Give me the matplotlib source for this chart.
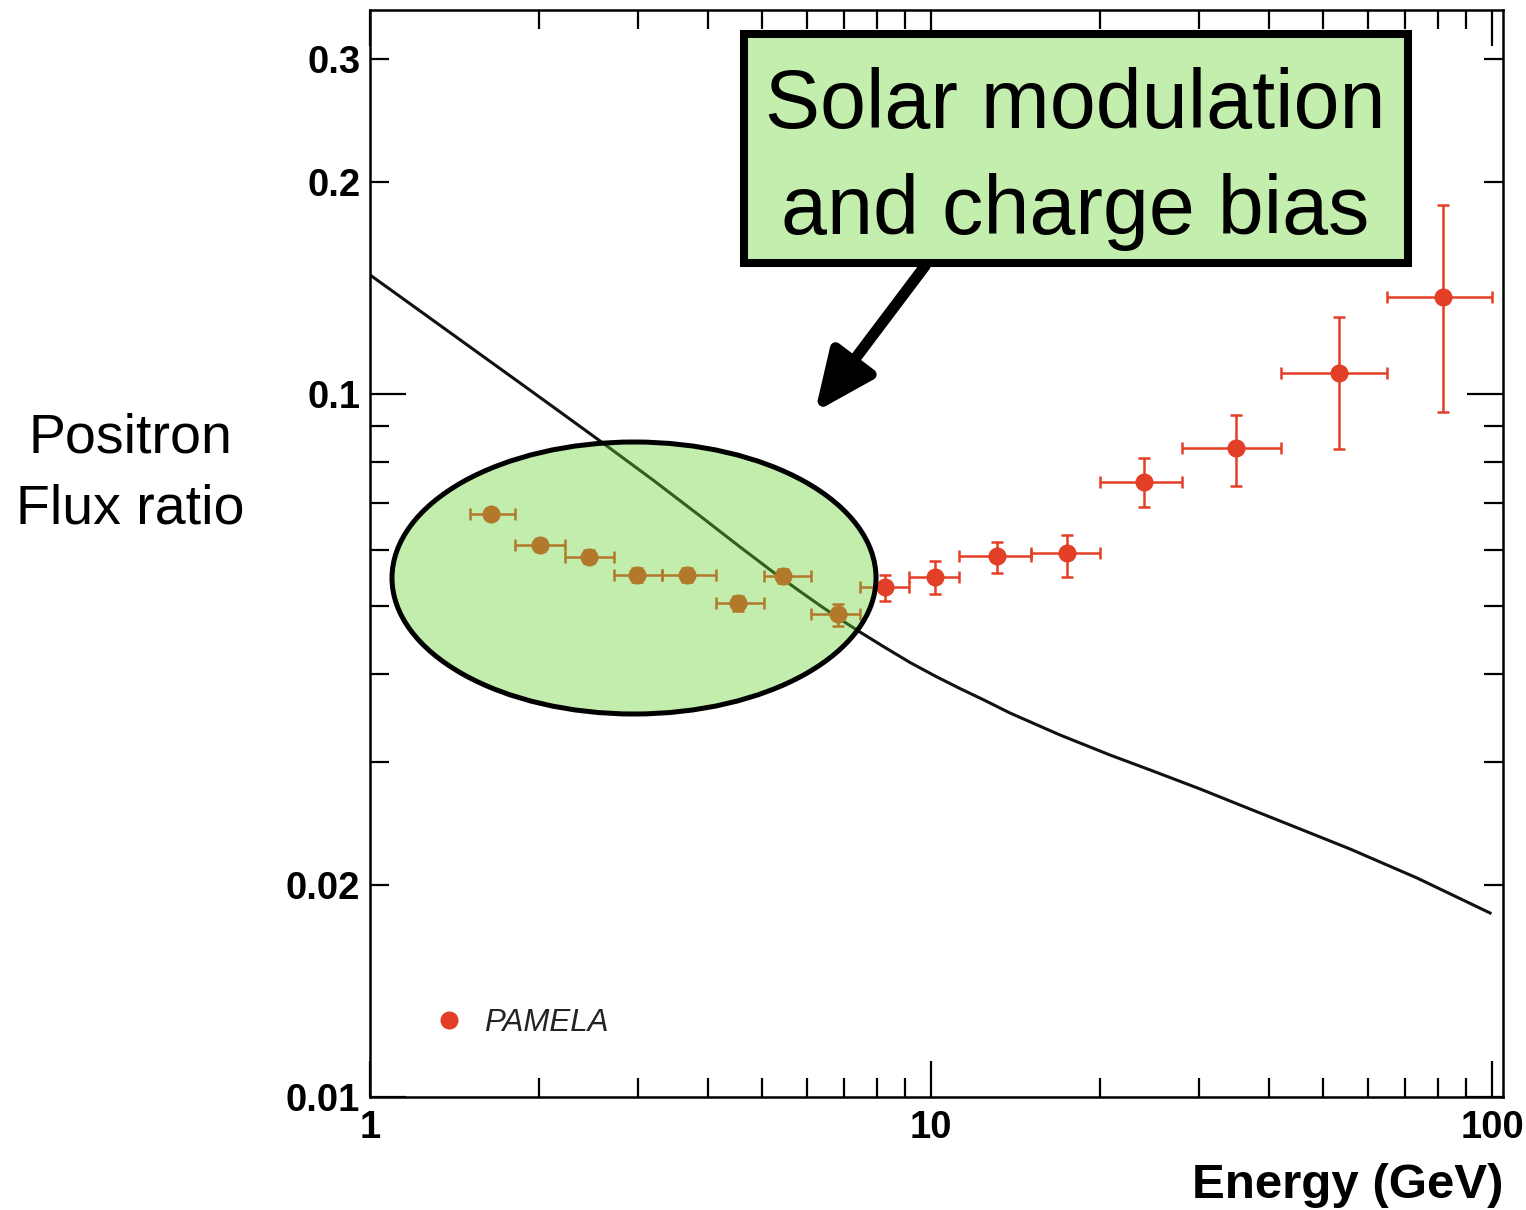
import numpy as np
import matplotlib
matplotlib.use("Agg")
import matplotlib.pyplot as plt
from matplotlib.patches import Ellipse, Rectangle, FancyArrowPatch
from matplotlib.lines import Line2D
from matplotlib.ticker import FixedLocator, FuncFormatter, NullFormatter

plt.rcParams['font.family'] = ['Liberation Sans', 'DejaVu Sans']

# ── PAMELA positron fraction ──────────────────────────────────────────────────
energy = np.array([1.64, 2.01, 2.46, 2.99, 3.67, 4.53, 5.45, 6.83,
                   8.28, 10.17, 13.1, 17.5, 24.0, 35.0, 53.4, 81.8])
ratio = np.array([0.0675, 0.0610, 0.0587, 0.0553, 0.0553, 0.0504, 0.0551, 0.0486,
                  0.0531, 0.0549, 0.0588, 0.0594, 0.0749, 0.0838, 0.1071, 0.1374])
err_lo = np.array([0.0012, 0.0012, 0.0012, 0.0012, 0.0012, 0.0012, 0.0012, 0.0018,
                   0.0024, 0.0029, 0.0032, 0.0045, 0.0059, 0.0098, 0.0236, 0.0431])
err_hi = np.array([0.0012, 0.0012, 0.0012, 0.0012, 0.0012, 0.0012, 0.0012, 0.0016,
                   0.0021, 0.0029, 0.0028, 0.0036, 0.0061, 0.0096, 0.0216, 0.0484])
# energy bin edges (GeV)
bin_edges = np.array([1.51, 1.81, 2.23, 2.72, 3.32, 4.14, 5.04, 6.11, 7.47,
                      9.14, 11.2, 15.1, 20.0, 28.0, 42.1, 65.0, 100.0])

# ── secondary-production prediction ──────────────────────────────────────────
curve_e = [1.0, 1.228, 1.508, 1.851, 2.182, 2.570, 3.195, 3.875, 4.566, 5.229,
           5.843, 6.341, 6.882, 7.469, 8.279, 9.175, 10.17, 11.26, 12.48, 13.83,
           16.98, 20.85, 24.57, 30.16, 37.04, 45.47, 55.84, 73.49, 99.18]
curve_r = [0.14768, 0.13125, 0.11663, 0.10367, 0.09428, 0.08575, 0.07544, 0.06707,
           0.06059, 0.05582, 0.05237, 0.05002, 0.04785, 0.04586, 0.04359, 0.04150,
           0.03970, 0.03811, 0.03664, 0.03517, 0.03273, 0.03065, 0.02919, 0.02743,
           0.02568, 0.02406, 0.02253, 0.02049, 0.01827]

y_major = [0.01, 0.1]
y_minor = [0.02, 0.03, 0.04, 0.05, 0.06, 0.07, 0.08, 0.09, 0.2, 0.3]
y_minor_labelled = [0.02, 0.2, 0.3]

RED = '#E33E26'
FILL = '#C4EEAE'

W, H = 1526, 1210
fig = plt.figure(figsize=(W / 100, H / 100), dpi=100)
ax = fig.add_axes([370 / W, (H - 1097) / H, 1133 / W, 1087 / H])

ax.plot(curve_e, curve_r, color='#111111', lw=2.2, zorder=2)

x_lo = energy - bin_edges[:-1]
x_hi = bin_edges[1:] - energy
ax.errorbar(energy, ratio, xerr=[x_lo, x_hi], yerr=[err_lo, err_hi],
            fmt='o', color=RED, ms=12, elinewidth=1.8,
            capsize=4.5, capthick=1.8, zorder=3)

ax.set_xscale('log')
ax.set_yscale('log')
ax.set_xlim(1, 104.6)
ax.set_ylim(0.01, 0.3517)

# ROOT-style ticks: inside, on all four sides
ax.yaxis.set_major_locator(FixedLocator(y_major))
ax.yaxis.set_minor_locator(FixedLocator(y_minor))
ax.yaxis.set_major_formatter(FuncFormatter(lambda v, p: f"{v:g}"))
ax.yaxis.set_minor_formatter(FuncFormatter(
    lambda v, p: f"{v:g}" if any(abs(v - t) < 1e-9 for t in y_minor_labelled) else ""))
ax.xaxis.set_major_formatter(FuncFormatter(lambda v, p: f"{v:g}"))
ax.xaxis.set_minor_formatter(NullFormatter())

ax.tick_params(which='both', direction='in', top=True, right=True,
               width=1.6, colors='black', labelsize=27.5)
ax.tick_params(which='major', length=26)
ax.tick_params(which='minor', length=13.5)
ax.tick_params(axis='y', which='both', pad=7)
ax.tick_params(axis='x', which='both', pad=9)
for lbl in ax.get_xticklabels() + ax.get_yticklabels(which='both'):
    lbl.set_fontweight('bold')
for lbl in ax.get_yticklabels(which='minor'):
    lbl.set_fontweight('bold')
for sp in ax.spines.values():
    sp.set_linewidth(1.8)

ax.set_xlabel('Energy (GeV)', fontsize=35.5, fontweight='bold', ha='right', va='center')
ax.xaxis.set_label_coords(1.0, -0.081)

leg = ax.legend(handles=[Line2D([], [], marker='o', ls='none', color=RED, ms=12)],
                labels=['PAMELA'], loc='center left', bbox_to_anchor=(0.059, 0.068),
                frameon=False, borderpad=0, borderaxespad=0, handlelength=0.8,
                handletextpad=0.7, prop={'size': 22.5, 'style': 'italic'})
for t in leg.get_texts():
    t.set_color('#222222')

fig.text(130 / W, 1 - 474 / H, 'Positron\nFlux ratio', ha='center', va='center',
         multialignment='center', fontsize=40, linespacing=1.46)

# highlight of the low-energy region
fig.add_artist(Ellipse((634 / W, 1 - 578 / H), 484 / W, 272 / H,
                       transform=fig.transFigure,
                       facecolor=(105 / 255, 210 / 255, 50 / 255, 0.4),
                       edgecolor='black', lw=3.6, zorder=3))

# callout box and arrow
fig.add_artist(Rectangle((744 / W, 1 - 263 / H), 664 / W, 229 / H,
                         transform=fig.transFigure, facecolor=FILL,
                         edgecolor='black', lw=5.8, zorder=4))
fig.text(1075.5 / W, 1 - 159 / H, 'Solar modulation\nand charge bias',
         ha='center', va='center', multialignment='center', fontsize=59.5,
         linespacing=1.45, zorder=5)
fig.add_artist(FancyArrowPatch((925 / W, 1 - 266 / H), (815 / W, 1 - 412 / H),
                               transform=fig.transFigure,
                               arrowstyle='-|>,head_length=0.9,head_width=0.4',
                               mutation_scale=40, lw=8, color='black',
                               shrinkA=0, shrinkB=0, zorder=4))

fig.savefig('out.png', dpi=100, facecolor='white')
